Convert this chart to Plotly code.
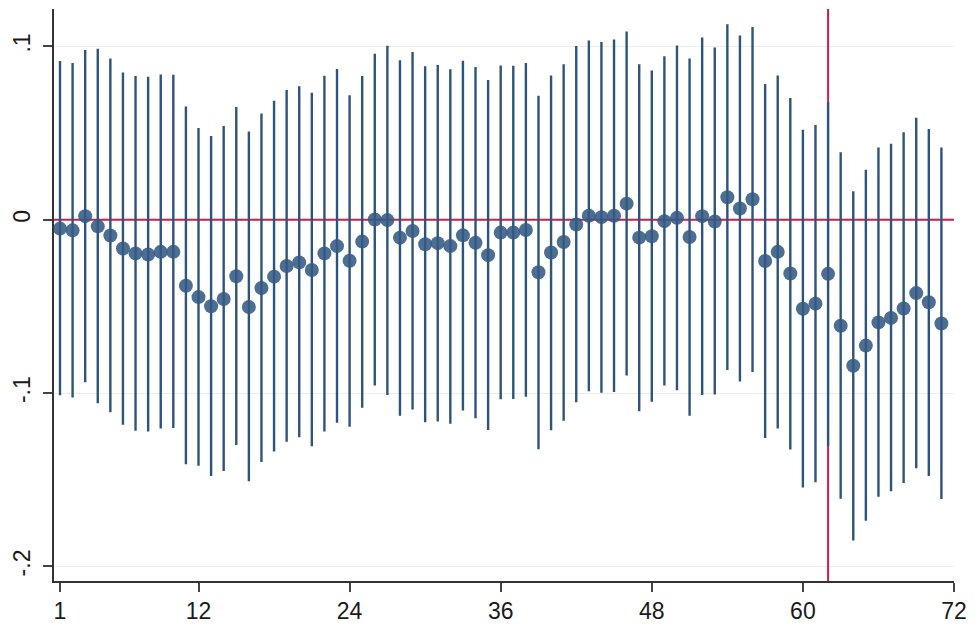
import plotly.graph_objects as go

# horizon (x) values
period = list(range(1, 72))

# point estimates
estimate = [
    -0.0051, -0.0061, 0.0021, -0.0038, -0.0091, -0.0166, -0.0194, -0.0200, -0.0185, -0.0185,
    -0.0381, -0.0446, -0.0499, -0.0457, -0.0326, -0.0503, -0.0394, -0.0328, -0.0267, -0.0246,
    -0.0290, -0.0194, -0.0152, -0.0236, -0.0126, 0.0002, -0.0002, -0.0103, -0.0065, -0.0141,
    -0.0135, -0.0152, -0.0090, -0.0133, -0.0204, -0.0074, -0.0074, -0.0059, -0.0303, -0.0189,
    -0.0128, -0.0027, 0.0023, 0.0015, 0.0023, 0.0093, -0.0103, -0.0095, -0.0008, 0.0011,
    -0.0099, 0.0021, -0.0010, 0.0130, 0.0065, 0.0118, -0.0238, -0.0185, -0.0310, -0.0513,
    -0.0484, -0.0312, -0.0611, -0.0842, -0.0726, -0.0592, -0.0566, -0.0512, -0.0423, -0.0476,
    -0.0598,
]

# upper confidence bounds
upper = [
    0.0916, 0.0905, 0.0980, 0.0987, 0.0930, 0.0850, 0.0829, 0.0825, 0.0838, 0.0836,
    0.0653, 0.0530, 0.0484, 0.0541, 0.0651, 0.0509, 0.0613, 0.0686, 0.0749, 0.0771,
    0.0733, 0.0831, 0.0870, 0.0718, 0.0830, 0.0958, 0.1004, 0.0920, 0.0968, 0.0886,
    0.0893, 0.0869, 0.0918, 0.0882, 0.0806, 0.0890, 0.0888, 0.0905, 0.0716, 0.0832,
    0.0897, 0.1002, 0.1034, 0.1025, 0.1040, 0.1086, 0.0897, 0.0861, 0.0943, 0.1006,
    0.0930, 0.1051, 0.0994, 0.1128, 0.1063, 0.1112, 0.0783, 0.0832, 0.0703, 0.0520,
    0.0547, 0.0678, 0.0390, 0.0164, 0.0288, 0.0417, 0.0438, 0.0505, 0.0589, 0.0524,
    0.0417,
]

# lower confidence bounds
lower = [
    -0.1013, -0.1025, -0.0937, -0.1059, -0.1110, -0.1183, -0.1217, -0.1221, -0.1204, -0.1202,
    -0.1411, -0.1419, -0.1478, -0.1450, -0.1299, -0.1509, -0.1398, -0.1337, -0.1280, -0.1255,
    -0.1307, -0.1221, -0.1171, -0.1194, -0.1084, -0.0956, -0.1011, -0.1130, -0.1095, -0.1168,
    -0.1164, -0.1177, -0.1101, -0.1145, -0.1213, -0.1036, -0.1034, -0.1021, -0.1324, -0.1215,
    -0.1160, -0.1053, -0.0989, -0.0998, -0.0994, -0.0899, -0.1105, -0.1050, -0.0956, -0.0983,
    -0.1130, -0.1011, -0.1008, -0.0867, -0.0933, -0.0878, -0.1259, -0.1204, -0.1326, -0.1545,
    -0.1514, -0.1307, -0.1610, -0.1851, -0.1737, -0.1598, -0.1566, -0.1518, -0.1434, -0.1478,
    -0.1611,
]

x_ticks = [1, 12, 24, 36, 48, 60, 72]
y_ticks = [-0.2, -0.1, 0, 0.1]
y_ticktext = ["-.2", "-.1", "0", ".1"]
event_period = 62
baseline = 0

x_range = [0.524, 72]
y_range = [-0.2084, 0.1216]

err_plus = [u - e for u, e in zip(upper, estimate)]
err_minus = [e - l for e, l in zip(estimate, lower)]

red = "#d01c4b"
fig = go.Figure()
# reference lines (drawn first, under the estimates)
fig.add_trace(go.Scatter(x=x_range, y=[baseline, baseline], mode="lines",
                         line=dict(color=red, width=2), hoverinfo="skip", showlegend=False))
fig.add_trace(go.Scatter(x=[event_period, event_period], y=y_range, mode="lines",
                         line=dict(color=red, width=2), hoverinfo="skip", showlegend=False))

fig.add_trace(go.Scatter(
    x=period, y=estimate, mode="markers",
    marker=dict(size=14, color="rgba(52,90,132,0.88)", line=dict(width=0)),
    error_y=dict(type="data", symmetric=False, array=err_plus, arrayminus=err_minus,
                 thickness=2.4, width=0, color="#2d547c"),
    showlegend=False,
))

font = dict(family="Liberation Sans, Arial, sans-serif", size=23, color="#1a1a1a")

fig.update_layout(
    width=976, height=633,
    margin=dict(l=54, r=21, t=9, b=46),
    paper_bgcolor="white", plot_bgcolor="white",
    font=font,
    xaxis=dict(
        range=x_range, tickvals=x_ticks, ticks="outside", ticklen=9,
        tickcolor="#444", tickwidth=1.5, showgrid=False, zeroline=False,
        showline=True, linecolor="#333", linewidth=1.5, tickfont=font,
    ),
    yaxis=dict(
        range=y_range, tickvals=y_ticks, ticktext=y_ticktext,
        tickangle=-90, ticks="outside", ticklen=9, tickcolor="#444", tickwidth=1.5,
        showgrid=True, gridcolor="#ececec", gridwidth=1, zeroline=False,
        showline=True, linecolor="#333", linewidth=1.5, tickfont=font,
        ticklabelstandoff=4,
    ),
)

fig.write_html("out.html")
